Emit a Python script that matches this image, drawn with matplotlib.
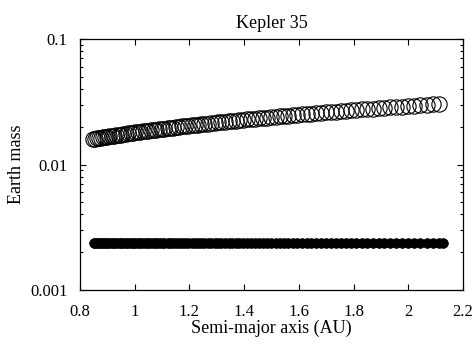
import matplotlib
matplotlib.use("Agg")
import matplotlib.pyplot as plt
from matplotlib.ticker import FixedLocator, LogLocator, FuncFormatter, NullFormatter

# Kepler 35: planets (open circles) and small bodies (filled)
planet_a = [0.847, 0.854, 0.861, 0.869, 0.877, 0.884, 0.892, 0.900, 0.908, 0.916,
            0.924, 0.932, 0.941, 0.949, 0.958, 0.967, 0.976, 0.985, 0.994, 1.003,
            1.012, 1.021, 1.030, 1.040, 1.049, 1.059, 1.069, 1.079, 1.089, 1.099,
            1.109, 1.120, 1.130, 1.141, 1.152, 1.163, 1.174, 1.185, 1.196, 1.208,
            1.219, 1.231, 1.243, 1.255, 1.267, 1.279, 1.292, 1.304, 1.317, 1.330,
            1.343, 1.356, 1.370, 1.383, 1.397, 1.411, 1.425, 1.440, 1.454, 1.469,
            1.484, 1.499, 1.515, 1.530, 1.546, 1.562, 1.578, 1.594, 1.611, 1.628,
            1.645, 1.662, 1.680, 1.698, 1.716, 1.734, 1.753, 1.772, 1.791, 1.810,
            1.830, 1.850, 1.870, 1.891, 1.912, 1.933, 1.955, 1.977, 1.999, 2.021,
            2.044, 2.067, 2.090, 2.112]
planet_m = [0.01600, 0.01609, 0.01619, 0.01629, 0.01640, 0.01649, 0.01659, 0.01670, 0.01680, 0.01690,
            0.01701, 0.01711, 0.01722, 0.01733, 0.01744, 0.01756, 0.01767, 0.01778, 0.01790, 0.01801,
            0.01812, 0.01824, 0.01835, 0.01847, 0.01859, 0.01871, 0.01883, 0.01896, 0.01908, 0.01920,
            0.01932, 0.01946, 0.01958, 0.01971, 0.01984, 0.01998, 0.02011, 0.02024, 0.02037, 0.02051,
            0.02065, 0.02079, 0.02093, 0.02107, 0.02121, 0.02135, 0.02150, 0.02164, 0.02179, 0.02194,
            0.02209, 0.02224, 0.02240, 0.02255, 0.02271, 0.02287, 0.02303, 0.02320, 0.02336, 0.02353,
            0.02369, 0.02386, 0.02404, 0.02421, 0.02438, 0.02456, 0.02473, 0.02491, 0.02510, 0.02528,
            0.02546, 0.02565, 0.02584, 0.02604, 0.02623, 0.02642, 0.02662, 0.02683, 0.02703, 0.02723,
            0.02744, 0.02765, 0.02786, 0.02807, 0.02829, 0.02851, 0.02874, 0.02896, 0.02919, 0.02941,
            0.02965, 0.02988, 0.03011, 0.03033]

small_a = [0.851] + planet_a[1:] + [2.128]
small_m = [0.00237] * len(small_a)

x_ticks = [0.8, 1.0, 1.2, 1.4, 1.6, 1.8, 2.0, 2.2]
y_ticks = [0.001, 0.01, 0.1]

plt.rcParams['font.family'] = ['Liberation Serif', 'DejaVu Serif']
plt.rcParams['font.size'] = 13

fig = plt.figure(figsize=(4.73, 3.45), dpi=100)
ax = fig.add_axes([0.169, 0.1594, 0.810, 0.7275])

ax.plot(planet_a, planet_m, linestyle='none', marker='o', markersize=11,
        markerfacecolor='none', markeredgecolor='black', markeredgewidth=0.8)
ax.plot(small_a, small_m, linestyle='none', marker='o', markersize=7,
        markerfacecolor='black', markeredgecolor='black', markeredgewidth=0.5)

ax.set_xlim(0.8, 2.2)
ax.set_yscale('log')
ax.set_ylim(0.001, 0.1)

fmt = FuncFormatter(lambda v, p: '%g' % v)
ax.xaxis.set_major_locator(FixedLocator(x_ticks))
ax.xaxis.set_major_formatter(fmt)
ax.yaxis.set_major_locator(FixedLocator(y_ticks))
ax.yaxis.set_major_formatter(fmt)
ax.yaxis.set_minor_locator(LogLocator(base=10, subs=range(2, 10)))
ax.yaxis.set_minor_formatter(NullFormatter())

ax.tick_params(which='both', direction='in', top=True, right=True, width=0.8,
               labelsize=12)
ax.tick_params(axis='x', which='major', length=4.5, pad=10)
ax.tick_params(axis='y', which='major', length=4.5, pad=9)
ax.tick_params(which='minor', length=2.5)
for s in ax.spines.values():
    s.set_linewidth(0.9)

ax.set_title('Kepler 35', fontsize=13, pad=8)
ax.set_xlabel('Semi-major axis (AU)', labelpad=0)
ax.set_ylabel('Earth mass', labelpad=4)

fig.savefig('out.png', dpi=100)
